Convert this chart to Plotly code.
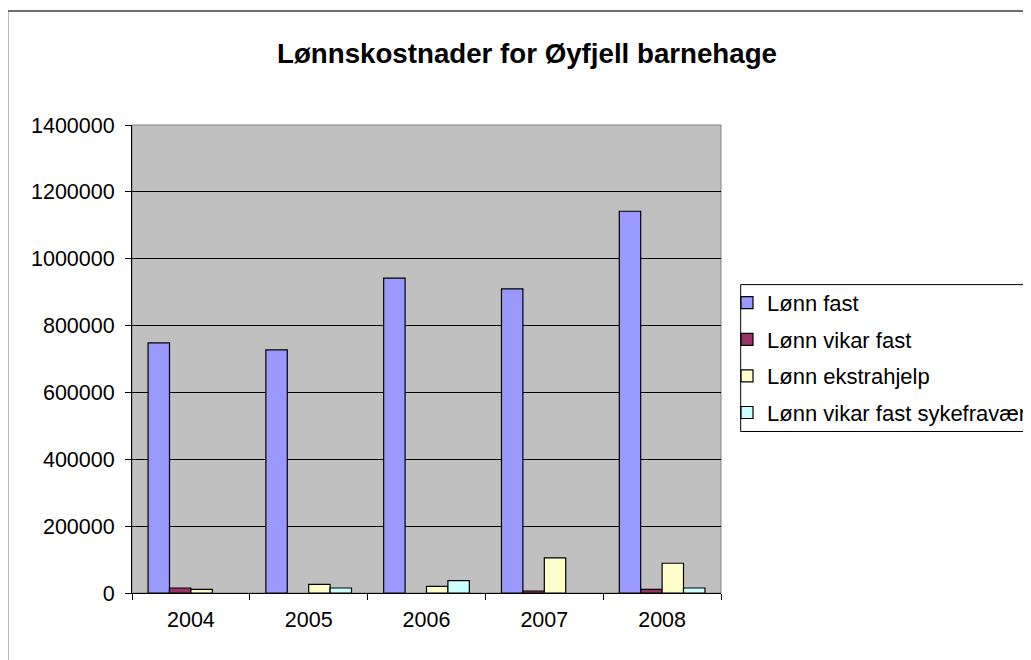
import plotly.graph_objects as go

years = ["2004", "2005", "2006", "2007", "2008"]
series_names = ["Lønn fast", "Lønn vikar fast", "Lønn ekstrahjelp", "Lønn vikar fast sykefravær"]
lonn_fast = [748000, 727000, 942000, 910000, 1142000]
lonn_vikar_fast = [15000, None, None, 6000, 11000]
lonn_ekstrahjelp = [11000, 26000, 20000, 105000, 89000]
lonn_vikar_syke = [None, 15000, 37000, None, 15000]
y_ticks = [0, 200000, 400000, 600000, 800000, 1000000, 1200000, 1400000]
title_text = "Lønnskostnader for Øyfjell barnehage"

colors = ["#9999FF", "#993366", "#FFFFCC", "#CCFFFF"]
values = [lonn_fast, lonn_vikar_fast, lonn_ekstrahjelp, lonn_vikar_syke]

FONT = "Arial, 'Liberation Sans', sans-serif"

fig = go.Figure()
for name, vals, col in zip(series_names, values, colors):
    fig.add_trace(go.Bar(
        x=years, y=vals, name=name,
        marker=dict(color=col, line=dict(color="black", width=1.2)),
        legendgroup=name,
    ))

# page body has an 8px margin: work in reference-screen pixels, shift by OFF
OFF = 8
W, H = 1031 - OFF, 660 - OFF
L, R, T, B = 131.5 - OFF, 721 - OFF, 125 - OFF, 593.3 - OFF
pw, ph = R - L, B - T


def px_x(x):
    return (x - OFF - L) / pw


def px_y(y):
    return (B - (y - OFF)) / ph


fig.update_layout(
    width=W, height=H,
    margin=dict(l=L, r=W - R, t=T, b=H - B, autoexpand=False),
    paper_bgcolor="white",
    plot_bgcolor="#C0C0C0",
    barmode="group",
    bargap=0.273,
    bargroupgap=0,
    font=dict(family=FONT, color="black", size=21.5),
    title=dict(
        text="<b>" + title_text + "</b>",
        x=(527 - OFF) / W, xanchor="center", xref="container",
        y=1 - (53 - OFF) / H, yanchor="middle", yref="container",
        font=dict(family=FONT, size=27.7, color="black"),
    ),
    legend=dict(
        x=px_x(727), xanchor="left",
        y=px_y(282), yanchor="top",
        bgcolor="rgba(0,0,0,0)",
        borderwidth=0,
        font=dict(family=FONT, size=22, color="black"),
        tracegroupgap=5,
        traceorder="grouped",
    ),
    showlegend=True,
    xaxis=dict(
        type="category",
        showline=True, linecolor="black", linewidth=1,
        ticks="outside", ticklen=6, tickcolor="black", tickwidth=1,
        tickson="boundaries",
        showgrid=False,
        tickfont=dict(size=21.5),
        ticklabelstandoff=7,
    ),
    yaxis=dict(
        range=[0, 1400000],
        tickvals=y_ticks,
        tickformat="d",
        showline=True, linecolor="black", linewidth=1,
        ticks="outside", ticklen=6, tickcolor="black", tickwidth=1,
        showgrid=True, gridcolor="black", gridwidth=1,
        zeroline=False,
        tickfont=dict(size=21.5),
        ticklabelstandoff=6,
    ),
    shapes=[
        # plot-area border (grey)
        dict(type="rect", xref="paper", yref="paper", x0=0, x1=1, y0=0, y1=1,
             line=dict(color="#808080", width=1), layer="below"),
        # legend frame
        dict(type="rect", xref="paper", yref="paper",
             x0=px_x(740.7), x1=px_x(1300), y0=px_y(431.7), y1=px_y(284.7),
             line=dict(color="black", width=1), fillcolor="white", layer="below"),
        # outer chart border (extends beyond visible region)
        dict(type="rect", xref="paper", yref="paper",
             x0=px_x(7), x1=px_x(1200), y0=px_y(800), y1=px_y(11),
             line=dict(color="#404040", width=1.5), fillcolor="rgba(0,0,0,0)",
             layer="above"),
    ],
)

fig.write_html("out.html")
